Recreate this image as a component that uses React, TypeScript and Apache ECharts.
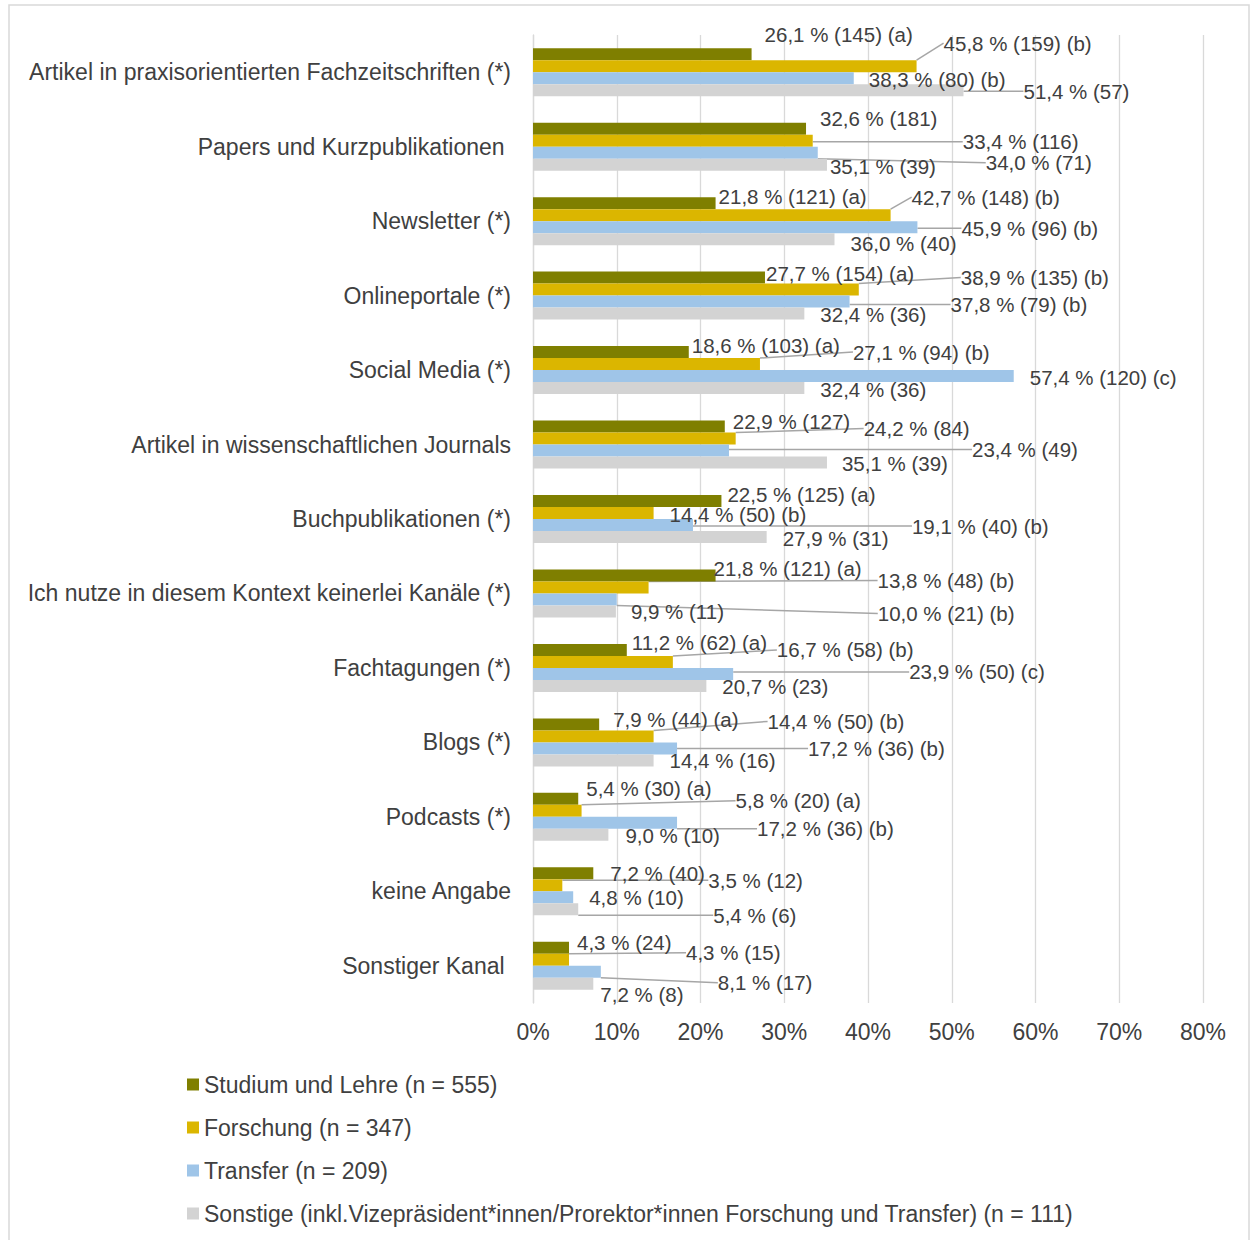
import React, { useEffect, useRef } from "react";
import * as echarts from "echarts";

const categories = [
  "Artikel in praxisorientierten Fachzeitschriften (*)",
  "Papers und Kurzpublikationen ",
  "Newsletter (*)",
  "Onlineportale (*)",
  "Social Media (*)",
  "Artikel in wissenschaftlichen Journals",
  "Buchpublikationen (*)",
  "Ich nutze in diesem Kontext keinerlei Kanäle (*)",
  "Fachtagungen (*)",
  "Blogs (*)",
  "Podcasts (*)",
  "keine Angabe",
  "Sonstiger Kanal ",
];

const seriesNames = [
  "Studium und Lehre (n = 555)",
  "Forschung (n = 347)",
  "Transfer (n = 209)",
  "Sonstige (inkl.Vizepräsident*innen/Prorektor*innen Forschung und Transfer) (n = 111)",
];

const studiumValues = [26.1, 32.6, 21.8, 27.7, 18.6, 22.9, 22.5, 21.8, 11.2, 7.9, 5.4, 7.2, 4.3];
const studiumCounts = [145, 181, 121, 154, 103, 127, 125, 121, 62, 44, 30, 40, 24];
const studiumLetters = ["a", "", "a", "a", "a", "", "a", "a", "a", "a", "a", "", ""];

const forschungValues = [45.8, 33.4, 42.7, 38.9, 27.1, 24.2, 14.4, 13.8, 16.7, 14.4, 5.8, 3.5, 4.3];
const forschungCounts = [159, 116, 148, 135, 94, 84, 50, 48, 58, 50, 20, 12, 15];
const forschungLetters = ["b", "", "b", "b", "b", "", "b", "b", "b", "b", "a", "", ""];

const transferValues = [38.3, 34.0, 45.9, 37.8, 57.4, 23.4, 19.1, 10.0, 23.9, 17.2, 17.2, 4.8, 8.1];
const transferCounts = [80, 71, 96, 79, 120, 49, 40, 21, 50, 36, 36, 10, 17];
const transferLetters = ["b", "", "b", "b", "c", "", "b", "b", "c", "b", "b", "", ""];

const sonstigeValues = [51.4, 35.1, 36.0, 32.4, 32.4, 35.1, 27.9, 9.9, 20.7, 14.4, 9.0, 5.4, 7.2];
const sonstigeCounts = [57, 39, 40, 36, 36, 39, 31, 11, 23, 16, 10, 6, 8];
const sonstigeLetters = ["", "", "", "", "", "", "", "", "", "", "", "", ""];

const xTicks = [0, 10, 20, 30, 40, 50, 60, 70, 80];

// label placement (offset from the bar end, as in the original layout)
const studiumLabelShift = [[13, -20], [14, -10], [3, -7], [1, -4], [3, -7], [8, -5], [6, -7], [-2, -7], [5, -7], [14, -5], [8, -10], [17, 0], [8, -5]];
const forschungLabelShift = [[27, -23], [150, 1], [21, -18], [102, -12], [93, -12], [128, -10], [16, 1], [229, -7], [104, -12], [114, -15], [154, -10], [146, -5], [117, -7]];
const transferLabelShift = [[15, 1], [168, 10], [44, 1], [101, 3], [16, 1], [243, -1], [219, 1], [261, 14], [176, -2], [131, 0], [80, 6], [16, 0], [117, 11]];
const sonstigeLabelShift = [[60, 1], [3, 2], [16, 4], [16, 1], [16, 1], [15, 1], [16, 1], [15, 0], [16, 1], [16, 0], [17, 1], [135, 6], [7, 11]];

const colors = ["#7F7F00", "#DBB600", "#9FC5E8", "#D3D3D3"];
const FONT = "'Liberation Sans', Arial, sans-serif";
const TEXT = "#404040";

export default function App() {
  const ref = useRef<HTMLDivElement>(null);
  useEffect(() => {
    if (!ref.current) return;
    const chart = echarts.init(ref.current, null, { renderer: "svg" });
    const allValues = [studiumValues, forschungValues, transferValues, sonstigeValues];
    const allCounts = [studiumCounts, forschungCounts, transferCounts, sonstigeCounts];
    const allLetters = [studiumLetters, forschungLetters, transferLetters, sonstigeLetters];
    const allShifts = [studiumLabelShift, forschungLabelShift, transferLabelShift, sonstigeLabelShift];

    const fmt = (v: number, n: number, l: string) =>
      v.toFixed(1).replace(".", ",") + " % (" + n + ")" + (l ? " (" + l + ")" : "");

    const series = allValues.map((vals, si) => ({
      name: seriesNames[si],
      type: "bar",
      barWidth: 12,
      barGap: "0%",
      itemStyle: { color: colors[si] },
      label: {
        show: true,
        position: "right",
        distance: 0,
        color: TEXT,
        fontSize: 20.5,
        fontFamily: FONT,
        formatter: (p: any) => fmt(vals[p.dataIndex], allCounts[si][p.dataIndex], allLetters[si][p.dataIndex]),
      },
      labelLine: { show: false, lineStyle: { color: "#A6A6A6", width: 1.5 } },
      labelLayout: (p: any) => {
        const s = allShifts[p.seriesIndex][p.dataIndex];
        return { dx: s[0], dy: s[1] };
      },
      data: vals.map((v, i) => ({
        value: v,
        labelLine: { show: allShifts[si][i][0] > 20, lineStyle: { color: "#A6A6A6", width: 1.5 } },
      })),
    }));

    chart.setOption({
      animation: false,
      backgroundColor: "#ffffff",
      textStyle: { fontFamily: FONT },
      grid: { left: 533, right: 51, top: 35, bottom: 237, containLabel: false },
      xAxis: {
        type: "value",
        min: xTicks[0],
        max: xTicks[xTicks.length - 1],
        interval: 10,
        axisLine: { show: false },
        axisTick: { show: false },
        splitLine: { show: true, lineStyle: { color: "#D9D9D9", width: 1.3 } },
        axisLabel: { formatter: "{value}%", color: TEXT, fontSize: 23, fontFamily: FONT, margin: 17 },
      },
      yAxis: {
        type: "category",
        inverse: true,
        data: categories,
        axisLine: { show: true, lineStyle: { color: "#D9D9D9", width: 1.3 } },
        axisTick: { show: false },
        axisLabel: { color: TEXT, fontSize: 23, fontFamily: FONT, margin: 22 },
      },
      legend: {
        orient: "vertical",
        left: 182,
        top: 1068,
        itemWidth: 12,
        itemHeight: 12,
        itemGap: 20,
        icon: "rect",
        textStyle: { color: TEXT, fontSize: 23, fontFamily: FONT },
        data: seriesNames,
      },
      graphic: [
        {
          type: "rect",
          shape: { x: 9, y: 5, width: 1240, height: 1260 },
          style: { fill: "none", stroke: "#D9D9D9", lineWidth: 1.5 },
          silent: true,
        },
      ],
      series,
    });
    return () => chart.dispose();
  }, []);
  return (
    <div
      ref={ref}
      style={{ position: "absolute", left: 0, top: 0, width: 1254, height: 1240, background: "#fff" }}
    />
  );
}
